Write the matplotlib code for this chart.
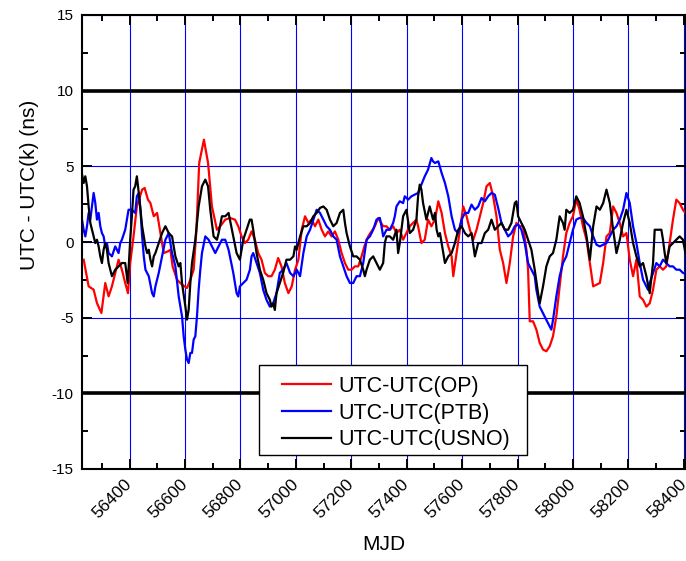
import numpy as np
import matplotlib
matplotlib.use("Agg")
import matplotlib.pyplot as plt
from matplotlib.ticker import MultipleLocator
from matplotlib.patches import Rectangle

plt.rcParams['font.family'] = ['Liberation Sans', 'DejaVu Sans']
plt.rcParams['axes.unicode_minus'] = False

# UTC-UTC(OP)
op_mjd = [56234, 56252, 56270, 56282, 56298, 56306, 56312, 56324, 56336, 56348, 56360, 56372,
          56384, 56394, 56402, 56414, 56426, 56445, 56454, 56466, 56475, 56487, 56499, 56507,
          56517, 56523, 56538, 56547, 56555, 56571, 56589, 56607, 56619, 56631, 56641, 56651,
          56668, 56683, 56697, 56715, 56727, 56745, 56762, 56780, 56792, 56804, 56816, 56828,
          56840, 56852, 56864, 56876, 56888, 56900, 56912, 56924, 56936, 56948, 56960, 56973,
          56985, 56997, 57009, 57021, 57033, 57045, 57057, 57069, 57081, 57093, 57105, 57117,
          57129, 57141, 57153, 57165, 57177, 57189, 57201, 57213, 57225, 57237, 57249, 57261,
          57273, 57285, 57297, 57315, 57327, 57339, 57351, 57363, 57375, 57387, 57399, 57411,
          57423, 57435, 57441, 57453, 57465, 57477, 57489, 57502, 57514, 57526, 57538, 57550,
          57562, 57568, 57580, 57592, 57604, 57616, 57628, 57640, 57652, 57664, 57676, 57688,
          57700, 57712, 57724, 57736, 57748, 57760, 57772, 57784, 57796, 57808, 57820, 57832,
          57838, 57844, 57856, 57868, 57880, 57892, 57904, 57916, 57928, 57940, 57952, 57964,
          57976, 57988, 58000, 58012, 58024, 58036, 58049, 58061, 58073, 58085, 58097, 58109,
          58121, 58133, 58145, 58157, 58169, 58181, 58193, 58205, 58217, 58229, 58241, 58253,
          58265, 58277, 58289, 58301, 58313, 58325, 58337, 58349, 58361, 58373, 58385, 58397,
          58406]
op_ns = [-1.17, -2.93, -3.15, -4.04, -4.69, -3.59, -2.71, -3.59, -2.93, -2.04, -1.17, -1.83,
         -2.71, -3.38, -1.39, 0.37, 2.35, 3.46, 3.57, 2.80, 2.57, 1.70, 1.92, 1.04,
         -0.07, -0.73, -0.62, -0.51, -1.61, -2.49, -2.82, -3.04, -2.49, -1.83, 0.81, 5.22,
         6.76, 5.22, 2.35, 0.81, 1.04, 1.48, 1.59, 1.48, 1.04, 0.37, -0.07, 0.15,
         0.70, 0.15, -0.73, -1.17, -2.04, -2.26, -2.26, -1.83, -1.06, -1.61, -2.71, -3.38,
         -2.93, -1.83, -1.17, 0.81, 1.70, 1.26, 1.48, 1.04, 1.48, 0.81, 0.37, 0.70,
         0.37, 0.70, 0.15, -0.73, -1.39, -1.83, -1.83, -1.61, -1.61, -0.95, -0.18, 0.37,
         0.70, 1.04, 1.59, 1.04, 1.04, 0.81, 1.04, 0.59, 0.81, 0.15, 0.59, 1.04,
         1.26, 1.48, 1.04, -0.07, 0.15, 1.48, 1.04, 1.48, 2.69, 1.92, 0.59, -0.29,
         -0.95, -2.26, -0.73, 0.81, 2.35, 1.70, 0.81, 0.15, 0.81, 1.70, 2.57, 3.68,
         3.90, 3.02, 1.70, -0.51, -1.39, -2.71, -1.39, 0.37, 1.26, 1.04, 1.04, -0.51,
         -1.83, -5.24, -5.24, -5.79, -6.67, -7.11, -7.22, -6.89, -6.23, -4.91, -2.93, -0.95,
         0.59, 1.26, 1.70, 2.80, 2.13, 1.04, 0.15, -1.39, -2.93, -2.82, -2.71, -1.39,
         0.37, 0.59, 2.35, 1.92, 1.26, 0.37, 0.59, -1.17, -2.26, -1.17, -3.60, -3.82,
         -4.27, -4.05, -3.16, -1.83, -1.61, -1.83, -1.61, -0.07, 1.48, 2.80, 2.57, 2.13,
         1.92]

# UTC-UTC(PTB)
ptb_mjd = [56228, 56234, 56240, 56246, 56252, 56258, 56264, 56270, 56276, 56282, 56288, 56294,
           56300, 56306, 56312, 56318, 56324, 56336, 56348, 56360, 56366, 56372, 56384, 56396,
           56408, 56420, 56426, 56433, 56439, 56445, 56451, 56457, 56469, 56481, 56487, 56493,
           56505, 56517, 56529, 56541, 56553, 56565, 56577, 56589, 56595, 56601, 56607, 56613,
           56619, 56625, 56631, 56637, 56643, 56649, 56655, 56661, 56673, 56685, 56697, 56709,
           56721, 56733, 56745, 56757, 56774, 56786, 56792, 56798, 56810, 56822, 56834, 56840,
           56846, 56858, 56870, 56882, 56894, 56906, 56918, 56930, 56942, 56954, 56966, 56979,
           56991, 57003, 57015, 57027, 57039, 57051, 57063, 57075, 57087, 57099, 57111, 57123,
           57135, 57147, 57159, 57171, 57183, 57195, 57207, 57219, 57231, 57243, 57255, 57267,
           57279, 57291, 57303, 57309, 57315, 57327, 57339, 57351, 57357, 57363, 57375, 57387,
           57393, 57405, 57417, 57429, 57441, 57453, 57465, 57477, 57489, 57495, 57502, 57514,
           57526, 57538, 57550, 57562, 57574, 57586, 57598, 57610, 57622, 57634, 57646, 57658,
           57670, 57682, 57694, 57706, 57718, 57730, 57742, 57754, 57766, 57778, 57790, 57802,
           57814, 57826, 57838, 57850, 57862, 57868, 57880, 57892, 57904, 57916, 57922, 57928,
           57940, 57952, 57964, 57976, 57988, 58000, 58012, 58024, 58036, 58049, 58061, 58073,
           58085, 58097, 58109, 58121, 58133, 58145, 58157, 58169, 58181, 58193, 58205, 58217,
           58229, 58241, 58253, 58265, 58271, 58277, 58289, 58301, 58313, 58325, 58337, 58349,
           58361, 58373, 58385, 58397, 58406]
ptb_ns = [1.48, 0.81, 0.37, 1.04, 1.92, 1.48, 2.35, 3.24, 2.57, 1.48, 1.92, 1.04,
          0.59, 0.37, -0.29, -0.07, -0.73, -0.95, -0.29, -0.73, -0.07, 0.15, 0.81, 2.13,
          2.13, 1.92, 3.02, 3.24, 2.13, 0.37, -0.95, -1.83, -2.26, -3.38, -3.60, -2.93,
          -2.04, -0.95, 0.15, 0.59, -0.73, -1.61, -3.60, -4.91, -6.23, -7.11, -7.77, -8.00,
          -7.33, -7.33, -6.45, -6.23, -4.91, -3.16, -1.83, -0.73, 0.37, 0.15, -0.29, -0.73,
          -0.29, 0.15, 0.15, -0.51, -2.04, -3.38, -3.60, -2.93, -2.71, -2.49, -1.83, -0.95,
          -0.73, -1.39, -2.04, -3.16, -3.82, -4.27, -4.05, -3.38, -2.04, -1.83, -1.39, -2.04,
          -2.26, -1.83, -2.26, -0.73, 0.37, 0.81, 1.48, 2.13, 1.92, 1.48, 1.04, 0.81,
          0.37, 0.15, -0.95, -1.61, -2.26, -2.71, -2.71, -2.26, -2.26, -1.39, 0.15, 0.37,
          0.81, 1.48, 1.59, 1.04, 0.37, 0.81, 0.81, 1.26, 1.70, 2.35, 2.69, 2.57,
          3.02, 2.80, 3.02, 3.13, 3.24, 3.79, 4.34, 4.78, 5.55, 5.33, 5.22, 5.33,
          4.56, 3.90, 3.02, 1.70, 0.81, 0.59, 1.48, 1.92, 1.92, 2.47, 2.13, 2.35,
          2.91, 2.69, 3.02, 3.24, 3.13, 2.25, 1.26, 0.81, 0.37, 0.59, 1.04, 1.15,
          0.81, -0.07, -1.39, -1.83, -2.26, -3.16, -4.27, -4.71, -5.15, -5.57, -5.79, -5.15,
          -3.60, -2.26, -1.39, -0.95, -0.07, 0.81, 1.48, 1.59, 1.59, 1.26, 1.04, 0.37,
          -0.18, -0.29, -0.18, -0.07, 0.37, 0.81, 1.04, 1.48, 2.13, 3.24, 2.57, 1.04,
          -0.07, -1.39, -2.49, -2.93, -3.16, -2.71, -2.04, -1.39, -1.61, -1.17, -1.39, -1.61,
          -1.61, -1.83, -1.83, -2.04, -2.10]

# UTC-UTC(USNO)
usno_mjd = [56228, 56234, 56240, 56246, 56252, 56258, 56264, 56270, 56276, 56282, 56288, 56294,
            56300, 56306, 56312, 56318, 56324, 56330, 56336, 56348, 56360, 56372, 56384, 56393,
            56396, 56402, 56408, 56414, 56420, 56426, 56433, 56439, 56445, 56451, 56457, 56463,
            56469, 56475, 56481, 56487, 56493, 56505, 56517, 56529, 56535, 56541, 56553, 56565,
            56577, 56583, 56589, 56601, 56607, 56613, 56619, 56625, 56637, 56649, 56661, 56673,
            56683, 56691, 56703, 56715, 56721, 56733, 56745, 56757, 56774, 56786, 56798, 56810,
            56822, 56834, 56840, 56846, 56858, 56870, 56882, 56894, 56906, 56912, 56918, 56924,
            56930, 56942, 56954, 56966, 56979, 56991, 56997, 57003, 57015, 57027, 57039, 57051,
            57063, 57075, 57087, 57099, 57111, 57123, 57135, 57147, 57159, 57171, 57177, 57183,
            57195, 57207, 57219, 57231, 57243, 57249, 57255, 57267, 57279, 57291, 57303, 57315,
            57321, 57327, 57339, 57351, 57363, 57369, 57375, 57387, 57399, 57411, 57423, 57435,
            57441, 57447, 57453, 57459, 57471, 57483, 57495, 57502, 57508, 57514, 57520, 57526,
            57538, 57550, 57562, 57574, 57586, 57598, 57610, 57622, 57634, 57646, 57658, 57670,
            57682, 57694, 57706, 57718, 57730, 57742, 57754, 57766, 57778, 57790, 57796, 57802,
            57814, 57826, 57838, 57850, 57862, 57874, 57880, 57892, 57904, 57916, 57928, 57940,
            57952, 57964, 57970, 57976, 57988, 58000, 58012, 58024, 58036, 58049, 58061, 58073,
            58085, 58097, 58109, 58121, 58133, 58145, 58157, 58169, 58181, 58193, 58205, 58217,
            58229, 58241, 58253, 58265, 58277, 58289, 58295, 58307, 58319, 58325, 58331, 58337,
            58349, 58361, 58373, 58385, 58397, 58406]
usno_ns = [4.49, 3.90, 4.34, 3.68, 2.35, 1.26, 0.81, 0.37, -0.07, 0.15, -0.29, -0.95,
           -1.39, -0.51, -0.07, -0.51, -1.39, -1.83, -2.26, -1.83, -1.61, -1.39, -1.39, -2.71,
           -1.83, 0.15, 1.70, 3.46, 3.68, 4.34, 3.24, 2.13, 1.04, 0.37, -0.29, -0.73,
           -0.51, -1.17, -1.61, -0.95, -0.73, -0.07, 0.59, 1.04, 0.81, 0.59, 0.37, -0.95,
           -1.61, -1.39, -2.71, -4.25, -5.13, -4.47, -2.71, -1.39, 0.15, 2.35, 3.68, 4.12,
           3.68, 2.13, 0.37, 0.15, 0.59, 1.70, 1.70, 1.92, 0.37, -0.73, -1.17, 0.15,
           0.81, 1.48, 1.48, 0.81, -0.73, -1.83, -2.49, -3.38, -3.82, -4.27, -4.05, -4.49,
           -3.38, -2.71, -2.04, -1.17, -1.17, -0.95, -0.29, -0.51, 0.37, 1.04, 1.04, 1.26,
           1.70, 1.92, 2.25, 2.35, 2.13, 1.48, 1.04, 1.26, 1.92, 2.13, 1.26, 0.59,
           -0.29, -0.95, -0.95, -1.17, -1.83, -2.26, -1.83, -1.17, -0.95, -1.39, -1.83, -1.39,
           -0.07, 0.37, 0.37, 0.15, 0.81, -0.73, -0.07, 1.70, 2.13, 0.59, 0.81, 1.48,
           3.02, 3.79, 3.46, 2.57, 1.48, 2.35, 1.48, 1.92, 0.81, 0.37, 0.59, -0.07,
           -1.39, -0.95, -0.73, -0.07, 0.81, 1.04, 0.59, 0.37, 0.59, -0.95, -0.07, -0.07,
           0.59, 0.81, 1.48, 0.81, 1.04, 1.26, 0.81, 0.81, 1.26, 2.57, 2.69, 1.70,
           1.26, 0.81, 0.15, -0.51, -1.83, -3.38, -4.05, -2.93, -1.61, -0.95, -0.73, 0.15,
           1.70, 1.26, 0.81, 2.13, 1.92, 2.13, 3.02, 2.57, 1.70, 0.37, -1.17, 1.04,
           2.35, 2.13, 2.57, 3.46, 2.57, 0.81, -0.73, 0.15, 1.26, 2.13, 1.26, -0.07,
           -0.95, -1.61, -1.39, -2.26, -3.38, -1.39, 0.81, 0.81, 0.81, 0.15, -0.73, -1.39,
           -0.29, -0.07, 0.15, 0.37, 0.15, -0.73]

legend_labels = ["UTC-UTC(OP)", "UTC-UTC(PTB)", "UTC-UTC(USNO)"]

fig = plt.figure(figsize=(6.86, 5.61), dpi=100)
ax = fig.add_axes([82 / 686, 1 - 469 / 561, 604 / 686, 454 / 561])

l1, = ax.plot(op_mjd, op_ns, color='#ff0000', lw=1.6)
l2, = ax.plot(ptb_mjd, ptb_ns, color='#0000ff', lw=1.6)
l3, = ax.plot(usno_mjd, usno_ns, color='black', lw=1.6)

ax.axhline(10, color='black', lw=2.6, zorder=1.8)
ax.axhline(-10, color='black', lw=2.6, zorder=1.8)

ax.set_xlim(56228, 58408)
ax.set_ylim(-15, 15)
ax.xaxis.set_major_locator(MultipleLocator(200))
ax.xaxis.set_minor_locator(MultipleLocator(100))
ax.yaxis.set_major_locator(MultipleLocator(5))
ax.yaxis.set_minor_locator(MultipleLocator(2.5))
ax.grid(which='major', color='#0000ff', lw=0.8)

ax.tick_params(which='both', direction='in', top=True, right=True, width=1.4, colors='black')
ax.tick_params(which='major', length=7)
ax.tick_params(which='minor', length=4)
ax.tick_params(axis='y', labelsize=11, pad=6)
ax.tick_params(axis='x', labelsize=12.5, pad=9)
for lab in ax.get_xticklabels():
    lab.set_rotation(45)
    lab.set_ha('right')
    lab.set_va('center')
    lab.set_rotation_mode('anchor')
for s in ax.spines.values():
    s.set_linewidth(1.5)

ax.set_xlabel("MJD", fontsize=15, labelpad=10)
fig.text(30 / 686, 1 - 185 / 561, "UTC - UTC(k) (ns)", rotation=90, fontsize=15,
         ha='center', va='center')

# legend box drawn separately so its size matches the reference
box = Rectangle((259 / 686, 1 - 455 / 561), 268 / 686, 90 / 561, transform=fig.transFigure,
                facecolor='white', edgecolor='black', lw=1.0, zorder=4.8, clip_on=False)
ax.add_patch(box)
leg = ax.legend([l1, l2, l3], legend_labels, loc='center',
                bbox_to_anchor=(396 / 686, 1 - 413 / 561), bbox_transform=fig.transFigure,
                fontsize=15.5, frameon=False, handlelength=2.3, handletextpad=0.35,
                labelspacing=0.27, borderpad=0, borderaxespad=0)
leg.set_zorder(5)

fig.savefig("out.png", dpi=100)
